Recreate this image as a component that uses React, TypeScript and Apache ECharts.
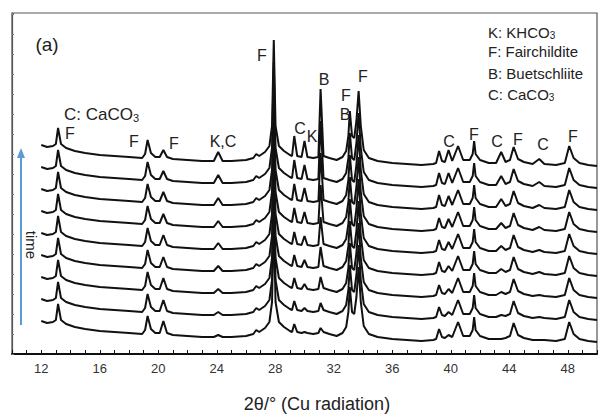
import React, { useEffect, useRef } from "react";
import * as echarts from "echarts";

// 2θ sampling positions (degrees)
const twoTheta = [
  12.0, 12.4, 12.8, 13.0, 13.15, 13.35, 13.7, 14.3, 15.0, 16.0,
  17.0, 18.0, 18.9, 19.1, 19.27, 19.5, 19.8, 20.1, 20.35, 20.6,
  21.0, 22.0, 23.0, 23.8, 24.1, 24.4, 25.0, 26.0, 26.5, 26.7,
  26.9, 27.3, 27.6, 27.78, 27.9, 28.02, 28.25, 28.6, 29.0, 29.15,
  29.3, 29.5, 29.8, 30.0, 30.2, 30.6, 30.95, 31.1, 31.3, 31.7,
  32.2, 32.6, 32.85, 33.0, 33.1, 33.25, 33.4, 33.55, 33.7, 33.85,
  34.05, 34.4, 35.0, 36.0, 37.0, 38.0, 38.8, 39.0, 39.2, 39.4,
  39.6, 39.85, 40.1, 40.5, 40.85, 41.3, 41.5, 41.6, 41.7, 42.0,
  42.6, 43.1, 43.45, 43.75, 44.05, 44.3, 44.6, 45.0, 45.6, 46.05,
  46.4, 47.2, 47.8, 48.1, 48.4, 48.8, 49.4, 50.0,
];

// intensity common to every scan (fairchildite + background), arbitrary units
const commonIntensity = [
  21, 19, 20, 22, 38, 22, 18, 15, 13, 11,
  10, 9, 8, 12, 26, 13, 9, 9, 8, 9,
  7, 6, 5, 5, 5, 5, 5, 6, 8, 12,
  10, 14, 20, 40, 126, 40, 20, 15, 11, 10,
  10, 10, 9, 9, 9, 8, 9, 9, 10, 8,
  6, 9, 15, 30, 55, 30, 28, 45, 75, 40,
  16, 8, 5, 3, 2, 1, 2, 3, 3, 5,
  4, 4, 5, 20, 6, 6, 12, 25, 12, 6,
  3, 3, 3, 4, 6, 19, 7, 4, 2, 2,
  2, 1, 3, 20, 8, 3, 1, 0,
];

// peaks whose height changes with time: extra intensity per scan (earliest first)
const peakF2035 = [13, 12, 12, 11, 11, 10, 10, 9, 8];
const peakKC241 = [2, 3, 4, 5, 6, 6, 7, 8, 9];
const peakC293 = [8, 9, 10, 11, 12, 14, 16, 18, 20];
const peakK300 = [1, 3, 5, 7, 9, 11, 13, 14, 16];
const peakB311 = [5, 8, 12, 20, 28, 38, 48, 58, 68];
const peakC392 = [10, 10, 10, 11, 11, 11, 12, 12, 12];
const peakC3985 = [3, 4, 5, 6, 8, 9, 10, 11, 12];
const peakC4345 = [0, 2, 3, 4, 5, 6, 8, 9, 11];
const peakC4605 = [0, 1, 1, 2, 2, 3, 3, 4, 5];

const changingPeaks: [number, number[]][] = [
  [20.35, peakF2035],
  [24.1, peakKC241],
  [29.3, peakC293],
  [30.0, peakK300],
  [31.1, peakB311],
  [39.2, peakC392],
  [39.85, peakC3985],
  [43.45, peakC4345],
  [46.05, peakC4605],
];

const scanNames = ["scan 1", "scan 2", "scan 3", "scan 4", "scan 5", "scan 6", "scan 7", "scan 8", "scan 9"];
const stackOffset = 22;
const firstOffset = 12;

const peakLabels: [string, number, number][] = [
  ["F", 262, 55],
  ["F", 70, 133],
  ["F", 134, 141],
  ["F", 174, 143],
  ["K,C", 223, 141],
  ["C", 300, 128],
  ["K", 312, 136],
  ["B", 324, 79],
  ["F", 346, 95],
  ["B", 345, 114],
  ["F", 363, 76],
  ["C", 449, 141],
  ["F", 474, 134],
  ["C", 497, 141],
  ["F", 518, 139],
  ["C", 543, 144],
  ["F", 573, 136],
];

const FONT = "'Liberation Sans', Arial, sans-serif";

export default function App() {
  const ref = useRef<HTMLDivElement>(null);
  useEffect(() => {
    document.body.style.margin = "0";
    const chart = echarts.init(ref.current!, null, { renderer: "svg" });

    const series = scanNames.map((name, i) => {
      const data = twoTheta.map((x, j) => {
        let v = commonIntensity[j];
        for (const [pos, arr] of changingPeaks) {
          if (Math.abs(pos - x) < 1e-6) v += arr[i];
        }
        return [x, v + firstOffset + i * stackOffset];
      });
      return {
        name,
        type: "line",
        data,
        showSymbol: false,
        symbol: "none",
        smooth: false,
        lineStyle: { color: "#111", width: 2 },
        z: 2,
      };
    });

    const textStyle = (text: string, size: number, extra: any = {}) => ({
      text,
      fontSize: size,
      fontFamily: FONT,
      fill: "#222",
      ...extra,
    });

    const labelEls = peakLabels.map(([t, x, y]) => ({
      type: "text",
      x,
      y,
      z: 10,
      style: textStyle(t, 16, { align: "center", verticalAlign: "middle", textAlign: "center", textVerticalAlign: "middle" }),
    }));

    const rich = {
      a: { fontSize: 15, fontFamily: FONT, fill: "#222", color: "#222", lineHeight: 18, verticalAlign: "bottom" },
      s: { fontSize: 10, fontFamily: FONT, fill: "#222", color: "#222", lineHeight: 8, verticalAlign: "bottom" },
      b: { fontSize: 17, fontFamily: FONT, fill: "#222", color: "#222", lineHeight: 20, verticalAlign: "bottom" },
      bs: { fontSize: 11, fontFamily: FONT, fill: "#222", color: "#222", lineHeight: 9, verticalAlign: "bottom" },
    };
    const legendLines = [
      ["{a|K: KHCO}{s|3}", 31],
      ["{a|F: Fairchildite}", 50],
      ["{a|B: Buetschliite}", 72],
      ["{a|C: CaCO}{s|3}", 93],
    ];
    const legendEls = legendLines.map(([t, y]) => ({
      type: "text",
      x: 488,
      y: y as number,
      z: 10,
      style: { text: t, rich, verticalAlign: "middle", textVerticalAlign: "middle", align: "left", textAlign: "left" },
    }));

    const option: any = {
      animation: false,
      grid: { left: 12, right: -2, top: 13, bottom: 60, show: true, borderColor: "#555", borderWidth: 1.2 },
      xAxis: {
        type: "value",
        min: 10,
        max: 50,
        interval: 1,
        axisLine: { lineStyle: { color: "#111", width: 2 } },
        axisTick: { inside: true, length: 4, lineStyle: { color: "#111", width: 1 } },
        axisLabel: {
          formatter: (v: number) => (v % 4 === 0 ? String(v) : ""),
          fontSize: 13,
          fontFamily: FONT,
          color: "#333",
          margin: 8,
        },
        splitLine: { show: false },
      },
      yAxis: {
        type: "value",
        min: 0,
        max: 341,
        interval: 20,
        axisLine: { show: true, lineStyle: { color: "#555", width: 1.2 } },
        axisTick: { show: true, inside: true, length: 2, lineStyle: { color: "#777" } },
        axisLabel: { show: false },
        splitLine: { show: false },
      },
      series,
      graphic: [
        {
          type: "line",
          shape: { x1: 21, y1: 325, x2: 21, y2: 156 },
          style: { stroke: "#5B9BD5", lineWidth: 2 },
          z: 10,
        },
        {
          type: "polygon",
          shape: { points: [[21, 148], [17, 158], [25, 158]] },
          style: { fill: "#5B9BD5" },
          z: 10,
        },
        {
          type: "text",
          x: 31,
          y: 245,
          rotation: -Math.PI / 2,
          z: 10,
          style: textStyle("time", 15, { align: "center", verticalAlign: "middle", textAlign: "center", textVerticalAlign: "middle" }),
        },
        {
          type: "text",
          x: 47,
          y: 44,
          z: 10,
          style: textStyle("(a)", 19, { align: "center", verticalAlign: "middle", textAlign: "center", textVerticalAlign: "middle" }),
        },
        {
          type: "text",
          x: 64,
          y: 113,
          z: 10,
          style: {
            text: "{b|C: CaCO}{bs|3}",
            rich,
            align: "left",
            textAlign: "left",
            verticalAlign: "middle",
            textVerticalAlign: "middle",
          },
        },
        {
          type: "text",
          x: 317,
          y: 404,
          z: 10,
          style: textStyle("2θ/° (Cu radiation)", 18, { align: "center", verticalAlign: "middle", textAlign: "center", textVerticalAlign: "middle" }),
        },
        ...labelEls,
        ...legendEls,
      ],
    };
    chart.setOption(option);
    return () => chart.dispose();
  }, []);
  return <div ref={ref} style={{ width: 600, height: 414, position: "absolute", left: 0, top: 0 }} />;
}
